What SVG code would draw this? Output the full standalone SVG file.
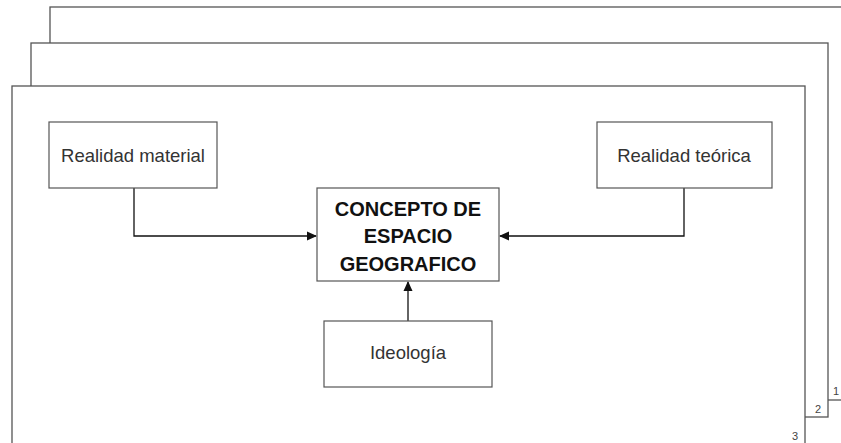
<svg xmlns="http://www.w3.org/2000/svg" width="841" height="443" viewBox="0 0 841 443">
  <defs>
    <style>
      .frame { fill: #ffffff; stroke: #555555; stroke-width: 1.3; }
      .node { fill: #ffffff; stroke: #555555; stroke-width: 1.2; }
      .lbl { font-family: "Liberation Sans", Arial, sans-serif; font-size: 18.5px; fill: #333333; text-anchor: middle; }
      .title { font-family: "Liberation Sans", Arial, sans-serif; font-size: 20px; font-weight: bold; fill: #111111; text-anchor: middle; }
      .num { font-family: "Liberation Sans", Arial, sans-serif; font-size: 11px; fill: #444444; text-anchor: middle; }
      .conn { fill: none; stroke: #111111; stroke-width: 1.3; }
    </style>
    <marker id="arrow" markerWidth="10" markerHeight="10" refX="9" refY="5" orient="auto" markerUnits="userSpaceOnUse">
      <path d="M0,0.5 L10,5 L0,9.5 z" fill="#111111"/>
    </marker>
  </defs>
  <rect width="841" height="443" fill="#ffffff"/>

  <g id="frame1">
    <rect class="frame" x="50" y="7" width="800" height="393"/>
    <text class="num" x="836" y="395">1</text>
  </g>
  <g id="frame2">
    <rect class="frame" x="31" y="43" width="797" height="374"/>
    <text class="num" x="818" y="413">2</text>
  </g>
  <g id="frame3">
    <rect class="frame" x="12" y="86" width="793" height="370"/>
    <text class="num" x="795" y="440">3</text>
  </g>

  <g id="connectors">
    <polyline class="conn" points="134,188 134,236 316,236" marker-end="url(#arrow)"/>
    <polyline class="conn" points="684,188 684,236 500,236" marker-end="url(#arrow)"/>
    <line class="conn" x1="408" y1="321" x2="408" y2="282" marker-end="url(#arrow)"/>
  </g>

  <g id="realidad-material">
    <rect class="node" x="49" y="122" width="168" height="66"/>
    <text class="lbl" x="133" y="162">Realidad material</text>
  </g>
  <g id="realidad-teorica">
    <rect class="node" x="597" y="122" width="175" height="66"/>
    <text class="lbl" x="684" y="162">Realidad teórica</text>
  </g>
  <g id="concepto">
    <rect class="node" x="317" y="188" width="182" height="93"/>
    <text class="title" x="408" y="216">CONCEPTO DE</text>
    <text class="title" x="408" y="243">ESPACIO</text>
    <text class="title" x="408" y="271">GEOGRAFICO</text>
  </g>
  <g id="ideologia">
    <rect class="node" x="324" y="321" width="168" height="66"/>
    <text class="lbl" x="408" y="359">Ideología</text>
  </g>
</svg>
